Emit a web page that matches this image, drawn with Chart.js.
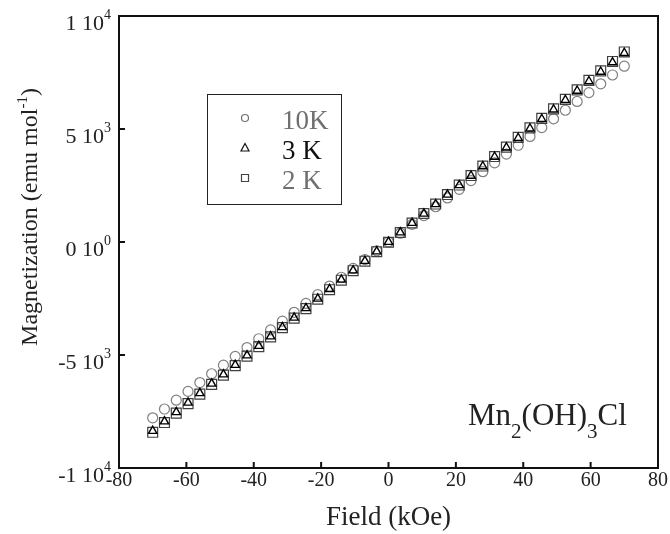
<!DOCTYPE html>
<html>
<head>
<meta charset="utf-8">
<script src="https://cdn.jsdelivr.net/npm/chart.js@4.4.0/dist/chart.umd.min.js"></script>
<style>
  html, body { margin:0; padding:0; background:#fff; }
  #wrap { width:670px; height:534px; }
</style>
</head>
<body>
<div id="wrap"><canvas id="magChart" width="670" height="534"></canvas></div>
<script>
// field in kOe, magnetization in emu/mol
const field = [-70,-66.5,-63,-59.5,-56,-52.5,-49,-45.5,-42,-38.5,-35,-31.5,-28,-24.5,-21,-17.5,-14,-10.5,-7,-3.5,0,
               3.5,7,10.5,14,17.5,21,24.5,28,31.5,35,38.5,42,45.5,49,52.5,56,59.5,63,66.5,70];
const m10K = [-7780,-7390,-7000,-6610,-6220,-5830,-5450,-5060,-4670,-4280,-3890,-3500,-3110,-2720,-2330,-1950,-1560,-1170,-780,-390,0,
              390,780,1170,1560,1950,2330,2720,3110,3500,3890,4280,4670,5060,5450,5830,6220,6610,7000,7390,7780];
const m3K  = [-8360,-7940,-7530,-7110,-6690,-6270,-5860,-5440,-5020,-4600,-4180,-3770,-3350,-2930,-2510,-2090,-1670,-1260,-840,-420,0,
              420,840,1250,1670,2090,2510,2930,3350,3770,4180,4600,5020,5440,5860,6280,6690,7110,7530,7950,8360];
const m2K  = [-8420,-7990,-7570,-7150,-6730,-6300,-5890,-5470,-5050,-4630,-4200,-3790,-3370,-2950,-2530,-2110,-1690,-1270,-850,-430,-10,
              420,840,1260,1680,2100,2520,2940,3360,3780,4200,4630,5050,5470,5890,6310,6730,7150,7570,7990,8410];

const xTicks = [-80,-60,-40,-20,0,20,40,60,80];
const yTicks = [-10000,-5000,0,5000,10000];
const yMant  = ['-1','-5','0','5','1'];
const yExp   = ['4','3','0','3','4'];
const legendLabels = ['10K','3 K','2 K'];

const SERIF = '"Liberation Serif", "Times New Roman", serif';
const pts = arr => field.map((h,i) => ({ x:h, y:arr[i] }));

const decor = {
  id:'decor',
  afterDraw(chart) {
    const ctx = chart.ctx, a = chart.chartArea;
    const xs = chart.scales.x, ys = chart.scales.y;
    ctx.save();
    // frame
    ctx.strokeStyle = '#111'; ctx.lineWidth = 2;
    ctx.strokeRect(a.left, a.top, a.right - a.left, a.bottom - a.top);
    // inward ticks
    ctx.beginPath();
    xTicks.forEach(v => { const px = xs.getPixelForValue(v); ctx.moveTo(px, a.bottom); ctx.lineTo(px, a.bottom - 6); });
    yTicks.forEach(v => { const py = ys.getPixelForValue(v); ctx.moveTo(a.left, py); ctx.lineTo(a.left + 6, py); });
    ctx.stroke();

    ctx.fillStyle = '#222';
    // x tick labels
    ctx.font = '20px ' + SERIF; ctx.textAlign = 'center'; ctx.textBaseline = 'alphabetic';
    xTicks.forEach(v => ctx.fillText(String(v), xs.getPixelForValue(v), 486));
    // y tick labels  "m 10^e"
    yTicks.forEach((v,i) => {
      const py = ys.getPixelForValue(v);
      ctx.font = '14px ' + SERIF;
      const supW = ctx.measureText(yExp[i]).width;
      ctx.font = '22px ' + SERIF;
      const main = yMant[i] + ' 10';
      const mainW = ctx.measureText(main).width;
      const right = a.left - 8;
      ctx.textAlign = 'left';
      ctx.fillText(main, right - supW - mainW, py + 14);
      ctx.font = '14px ' + SERIF;
      ctx.fillText(yExp[i], right - supW, py + 3);
    });

    // x title
    ctx.font = '27px ' + SERIF; ctx.textAlign = 'center';
    ctx.fillText('Field (kOe)', (a.left + a.right) / 2, 525);

    // y title with superscript
    ctx.save();
    ctx.translate(37, 217); ctx.rotate(-Math.PI / 2);
    ctx.textAlign = 'left';
    ctx.font = '24px ' + SERIF;
    const t1 = 'Magnetization (emu mol', t3 = ')';
    const w1 = ctx.measureText(t1).width, w3 = ctx.measureText(t3).width;
    ctx.font = '15px ' + SERIF;
    const w2 = ctx.measureText('-1').width;
    let x0 = -(w1 + w2 + w3) / 2;
    ctx.font = '24px ' + SERIF; ctx.fillText(t1, x0, 0);
    ctx.font = '15px ' + SERIF; ctx.fillText('-1', x0 + w1, -10);
    ctx.font = '24px ' + SERIF; ctx.fillText(t3, x0 + w1 + w2, 0);
    ctx.restore();

    // compound label Mn2(OH)3Cl
    const parts = [['Mn',0],['2',1],['(OH)',0],['3',1],['Cl',0]];
    let cx = 468;
    parts.forEach(([s,sub]) => {
      ctx.font = (sub ? '21px ' : '31px ') + SERIF;
      ctx.textAlign = 'left';
      ctx.fillText(s, cx, sub ? 438 : 425);
      cx += ctx.measureText(s).width;
    });

    // legend box
    ctx.lineWidth = 1; ctx.strokeStyle = '#222';
    ctx.strokeRect(207.5, 94.5, 134, 110);
    const rows = [118, 148, 178];
    const txtCol = ['#707070','#111','#707070'];
    const mkCol = ['#707070','#111','#444'];
    rows.forEach((ry,i) => {
      ctx.strokeStyle = mkCol[i]; ctx.lineWidth = 1.2;
      ctx.beginPath();
      if (i === 0) ctx.arc(245, ry, 3.5, 0, Math.PI * 2);
      else if (i === 1) { ctx.moveTo(245, ry - 4.5); ctx.lineTo(249, ry + 3); ctx.lineTo(241, ry + 3); ctx.closePath(); }
      else ctx.rect(241.5, ry - 3.5, 7, 7);
      ctx.stroke();
      ctx.fillStyle = txtCol[i];
      ctx.font = '27px ' + SERIF; ctx.textAlign = 'left';
      ctx.fillText(legendLabels[i], 282, ry + 11);
    });
    ctx.restore();
  }
};

new Chart(document.getElementById('magChart').getContext('2d'), {
  type:'scatter',
  data:{ datasets:[
    { label:'3 K',  data:pts(m3K),  pointStyle:'triangle', pointRadius:4.8, borderColor:'#000',    backgroundColor:'rgba(0,0,0,0)', borderWidth:1.4, order:0 },
    { label:'2 K',  data:pts(m2K),  pointStyle:'rect',     pointRadius:7,   borderColor:'#404040', backgroundColor:'rgba(0,0,0,0)', borderWidth:1.2, order:1 },
    { label:'10K',  data:pts(m10K), pointStyle:'circle',   pointRadius:5,   borderColor:'#808080', backgroundColor:'rgba(0,0,0,0)', borderWidth:1.2, order:2 }
  ]},
  options:{
    responsive:false, animation:false, devicePixelRatio:1,
    layout:{ padding:{ left:119, right:12, top:16, bottom:66 } },
    plugins:{ legend:{ display:false }, tooltip:{ enabled:false } },
    scales:{
      x:{ type:'linear', min:-80, max:80, display:false },
      y:{ type:'linear', min:-10000, max:10000, display:false }
    }
  },
  plugins:[decor]
});
</script>
</body>
</html>
